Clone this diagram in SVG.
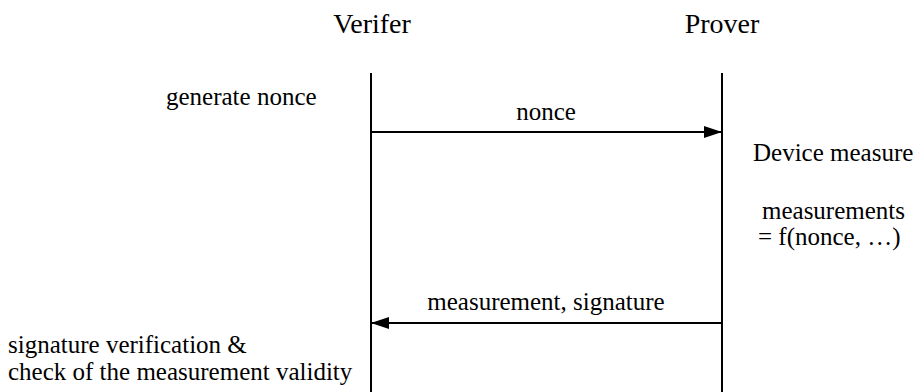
<svg xmlns="http://www.w3.org/2000/svg" width="919" height="392" viewBox="0 0 919 392">
<style>
.t{font-size:28px}
.l{font-size:25px}
.line{stroke:#000;stroke-width:2;fill:none}
</style>
<defs>
<marker id="ah" markerWidth="18" markerHeight="12" refX="18" refY="6" orient="auto" markerUnits="userSpaceOnUse">
<path d="M0,0 L18,6 L0,12 Z" fill="#000"/>
</marker>
</defs>
<rect width="919" height="392" fill="#fff"/>
<g font-family="Liberation Serif, DejaVu Serif, serif" fill="#000">
<g id="verifier">
<text class="t" x="372" y="33" text-anchor="middle">Verifer</text>
<line class="line" x1="371" y1="73" x2="371" y2="392"/>
<text class="l" x="166" y="105">generate nonce</text>
<text class="l" x="8" y="353">signature verification &amp;</text>
<text class="l" x="8" y="380">check of the measurement validity</text>
</g>
<g id="prover">
<text class="t" x="722" y="33" text-anchor="middle">Prover</text>
<line class="line" x1="722" y1="73" x2="722" y2="392"/>
<text class="l" x="753" y="161">Device measure</text>
<text class="l" x="762" y="219">measurements</text>
<text class="l" x="758" y="245">= f(nonce, …)</text>
</g>
<g id="connectors">
<line class="line" x1="371" y1="132" x2="722" y2="132" marker-end="url(#ah)"/>
<text class="l" x="546" y="120" text-anchor="middle">nonce</text>
<line class="line" x1="722" y1="323" x2="371" y2="323" marker-end="url(#ah)"/>
<text class="l" x="546" y="310" text-anchor="middle">measurement, signature</text>
</g>
</g>
</svg>
